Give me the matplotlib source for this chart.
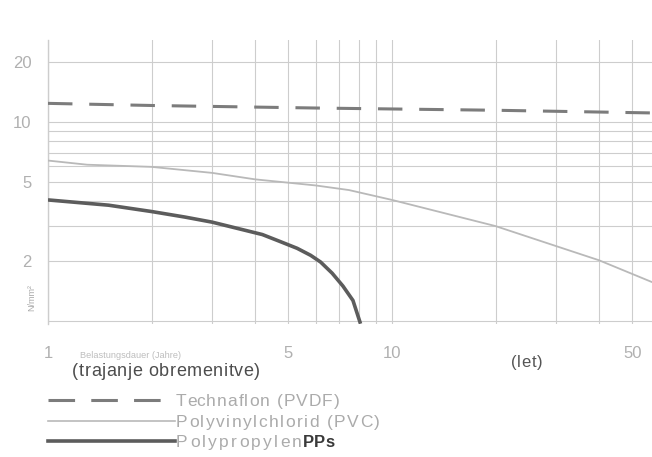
import matplotlib
matplotlib.use("Agg")
import matplotlib.pyplot as plt
from matplotlib.lines import Line2D

plt.rcParams["font.family"] = ["Liberation Sans", "DejaVu Sans"]

# ==========================
# data
# ==========================
pvdf_x = [1, 2, 6, 20, 57]
pvdf_y = [12.4, 12.1, 11.75, 11.45, 11.1]

pvc_x = [1, 1.3, 2, 3, 4, 6, 7.5, 10, 20, 40, 57]
pvc_y = [6.4, 6.1, 5.95, 5.55, 5.15, 4.8, 4.55, 4.06, 3.0, 2.02, 1.57]

pp_x = [1, 1.5, 2, 2.5, 3, 3.5, 4.2, 4.7, 5.3, 5.8, 6.2, 6.7, 7.2, 7.7, 8.1]
pp_y = [4.06, 3.82, 3.55, 3.33, 3.14, 2.94, 2.72, 2.52, 2.32, 2.14, 1.98, 1.74, 1.50, 1.27, 0.97]

x_ticks = [1, 5, 10, 50]
x_tick_labels = ["1", "5", "10", "50"]
y_ticks = [2, 5, 10, 20]
y_tick_labels = ["2", "5", "10", "20"]
x_grid = [2, 3, 4, 6, 7, 8, 9, 20, 30, 40]
y_grid = [1, 3, 4, 6, 7, 8, 9]

legend_labels = ["Technaflon (PVDF)", "Polyvinylchlorid (PVC)", "Polypropylen"]

# ==========================
# styles
# ==========================
GRID = "#cdcdcd"
TICK = "#b0b0b0"
C_PVDF = "#7c7c7c"
C_PVC = "#b9b9b9"
C_PP = "#5c5c5c"
DASH = (0, (8, 5.5))

W, H = 652, 457
fig = plt.figure(figsize=(W / 100, H / 100), dpi=100)
ax = fig.add_axes([48 / W, 1 - 324 / H, 1 - 48 / W, (324 - 40) / H])

ax.set_xscale("log")
ax.set_yscale("log")
ax.set_xlim(1, 57)
ax.set_ylim(0.967, 25.8)

ax.plot(pvdf_x, pvdf_y, color=C_PVDF, lw=2.2, linestyle=DASH, zorder=3)
ax.plot(pvc_x, pvc_y, color=C_PVC, lw=1.3, zorder=3)
ax.plot(pp_x, pp_y, color=C_PP, lw=2.6, zorder=4, solid_capstyle="butt",
        solid_joinstyle="round")

ax.set_xticks(x_ticks)
ax.set_xticklabels(x_tick_labels)
ax.set_xticks(x_grid, minor=True)
ax.set_xticklabels([], minor=True)
ax.set_yticks(y_ticks)
ax.set_yticklabels(y_tick_labels)
ax.set_yticks(y_grid, minor=True)
ax.set_yticklabels([], minor=True)

ax.tick_params(axis="both", which="both", length=0, colors=TICK, labelsize=12)
ax.tick_params(axis="x", pad=16)
ax.tick_params(axis="y", pad=12)
ax.grid(True, which="both", color=GRID, lw=0.8)
ax.axvline(1, color=GRID, lw=1.0, clip_on=False)
for s in ax.spines.values():
    s.set_visible(False)

renderer = fig.canvas.get_renderer()


def _width(s, **kw):
    # advance width of s in pixels (sentinel trick so trailing spaces count)
    a = fig.text(0, 0, s + "|", **kw)
    b = fig.text(0, 0, "|", **kw)
    w = a.get_window_extent(renderer).width - b.get_window_extent(renderer).width
    a.remove()
    b.remove()
    return w


def tracked(x_px, base_px, s, spacing=0.0, **kw):
    """text drawn letter by letter with extra spacing (scan font is wide)"""
    for i, ch in enumerate(s):
        if ch == " ":
            continue
        x = x_px + _width(s[:i], **kw) + i * spacing
        fig.text(x / W, 1 - base_px / H, ch, va="baseline", ha="left", **kw)
    return x_px + _width(s, **kw) + (len(s) - 1) * spacing


# axis texts
fig.text(32 / W, 1 - 298 / H, "N/mm²", rotation=90, fontsize=6.5, color="#aaaaaa",
         ha="center", va="center")
fig.text(80 / W, 1 - 358 / H, "Belastungsdauer (Jahre)", fontsize=6.6, color="#bdbdbd",
         va="baseline")
tracked(72, 376, "(trajanje obremenitve)", 0.6, fontsize=13, color="#4d4d4d")
tracked(511, 367, "(let)", 0.6, fontsize=12, color="#555555")

# legend drawn below the plot
leg_styles = [
    dict(color=C_PVDF, lw=2.2, linestyle=(0, (8.7, 5.3))),
    dict(color=C_PVC, lw=1.2),
    dict(color=C_PP, lw=2.6),
]
leg_y = [400, 421, 441]
leg_spacing = [1.0, 1.5, 2.3]
for label, style, yy, sp in zip(legend_labels, leg_styles, leg_y, leg_spacing):
    fig.add_artist(Line2D([48 / W, 175 / W], [1 - yy / H] * 2,
                          transform=fig.transFigure, **style))
    end = tracked(176, yy + 6, label, sp, fontsize=12.5, color="#ababab")

tracked(end + 1, 447, "PPs", 0.3, fontsize=12, color="#3a3a3a", fontweight="bold")

fig.savefig("out.png", dpi=100)
